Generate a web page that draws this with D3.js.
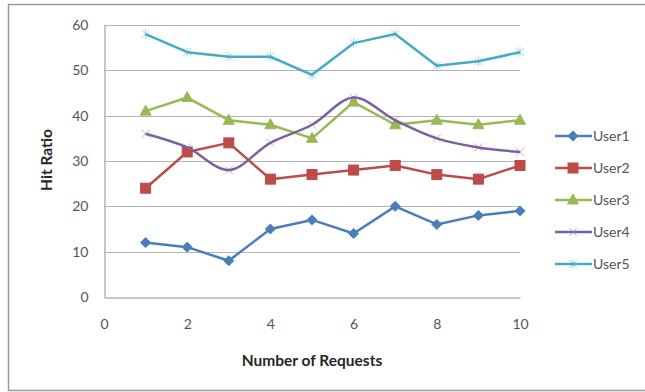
<!DOCTYPE html>
<html>
<head>
<meta charset="utf-8">
<script src="https://cdn.jsdelivr.net/npm/d3@7"></script>
<style>
  html, body { margin: 0; padding: 0; background: #fff; }
  svg { display: block; }
</style>
</head>
<body>
<svg id="chart" width="645" height="392"></svg>
<script>
// Hit ratio per user for 1..10 requests
const requests = [1, 2, 3, 4, 5, 6, 7, 8, 9, 10];
const user1 = [12, 11, 8, 15, 17, 14, 20, 16, 18, 19];
const user2 = [24, 32, 34, 26, 27, 28, 29, 27, 26, 29];
const user3 = [41, 44, 39, 38, 35, 43, 38, 39, 38, 39];
const user4 = [36, 33, 28, 34, 38, 44, 39, 35, 33, 32];
const user5 = [58, 54, 53, 53, 49, 56, 58, 51, 52, 54];
const seriesNames = ["User1", "User2", "User3", "User4", "User5"];
const xTicks = [0, 2, 4, 6, 8, 10];
const yTicks = [0, 10, 20, 30, 40, 50, 60];

const series = [
  { name: seriesNames[0], values: user1, color: "#4A7EBB", marker: "diamond", smooth: false },
  { name: seriesNames[1], values: user2, color: "#BE4B48", marker: "square", smooth: false },
  { name: seriesNames[2], values: user3, color: "#98B954", marker: "triangle", smooth: false },
  { name: seriesNames[3], values: user4, color: "#7D60A0", marker: "cross", smooth: true },
  { name: seriesNames[4], values: user5, color: "#46AAC5", marker: "star", smooth: false }
];

const svg = d3.select("#chart");
const font = "Lato, 'Open Sans', sans-serif";

// chart frame (runs off the right edge)
svg.append("rect")
  .attr("x", 8.5).attr("y", 4.5).attr("width", 660).attr("height", 386)
  .attr("fill", "#fff").attr("stroke", "#9a9a9a").attr("stroke-width", 1.5);

const x = d3.scaleLinear().domain([0, 10]).range([104, 520]);
const y = d3.scaleLinear().domain([0, 60]).range([297, 25]);

// horizontal gridlines
svg.append("g").selectAll("line").data(yTicks.filter(d => d > 0)).join("line")
  .attr("x1", x(0)).attr("x2", x(10))
  .attr("y1", d => Math.round(y(d)) + 0.5).attr("y2", d => Math.round(y(d)) + 0.5)
  .attr("stroke", "#b4b4b4").attr("stroke-width", 1.2);

// axes
const yAxis = svg.append("g")
  .attr("transform", `translate(${x(0) + 0.5},0)`)
  .call(d3.axisLeft(y).tickValues(yTicks).tickSize(0).tickPadding(16));
const xAxis = svg.append("g")
  .attr("transform", `translate(0,${Math.round(y(0)) + 0.5})`)
  .call(d3.axisBottom(x).tickValues(xTicks).tickSize(0).tickPadding(22));
[yAxis, xAxis].forEach(g => {
  g.select(".domain").attr("stroke", "#b4b4b4").attr("stroke-width", 1.5);
  g.selectAll("text").attr("font-family", font).attr("font-size", 14).attr("fill", "#555");
});

// axis titles
svg.append("text")
  .attr("x", 312).attr("y", 366).attr("text-anchor", "middle")
  .attr("font-family", font).attr("font-size", 15.5).attr("font-weight", "bold").attr("fill", "#262626")
  .text("Number of Requests");
svg.append("text")
  .attr("transform", "translate(52,160) rotate(-90)").attr("text-anchor", "middle")
  .attr("font-family", font).attr("font-size", 15.5).attr("font-weight", "bold").attr("fill", "#262626")
  .text("Hit Ratio");

function drawMarker(g, type, color, cx, cy) {
  if (type === "diamond") {
    g.append("path").attr("d", `M${cx},${cy - 5}L${cx + 5},${cy}L${cx},${cy + 5}L${cx - 5},${cy}Z`)
      .attr("fill", color).attr("stroke", color);
  } else if (type === "square") {
    g.append("rect").attr("x", cx - 5).attr("y", cy - 5).attr("width", 10).attr("height", 10)
      .attr("fill", color).attr("stroke", color);
  } else if (type === "triangle") {
    g.append("path").attr("d", `M${cx},${cy - 6}L${cx + 5.5},${cy + 4}L${cx - 5.5},${cy + 4}Z`)
      .attr("fill", color).attr("stroke", color);
  } else if (type === "cross") {
    g.append("path").attr("d", `M${cx - 4},${cy - 4}L${cx + 4},${cy + 4}M${cx - 4},${cy + 4}L${cx + 4},${cy - 4}`)
      .attr("stroke", color).attr("stroke-width", 1).attr("opacity", 0.5);
  } else if (type === "star") {
    g.append("path").attr("d", `M${cx - 4},${cy - 4}L${cx + 4},${cy + 4}M${cx - 4},${cy + 4}L${cx + 4},${cy - 4}M${cx},${cy - 5}L${cx},${cy + 5}`)
      .attr("stroke", color).attr("stroke-width", 1).attr("opacity", 0.5);
  }
}

const plot = svg.append("g");
series.forEach(s => {
  const line = d3.line()
    .x((d, i) => x(requests[i]))
    .y(d => y(d))
    .curve(s.smooth ? d3.curveCatmullRom.alpha(0.5) : d3.curveLinear);
  plot.append("path").datum(s.values)
    .attr("d", line).attr("fill", "none")
    .attr("stroke", s.color).attr("stroke-width", 2.5).attr("stroke-linejoin", "round");
  const mg = plot.append("g");
  s.values.forEach((v, i) => drawMarker(mg, s.marker, s.color, x(requests[i]), y(v)));
});

// legend
const legend = svg.append("g");
series.forEach((s, i) => {
  const ly = 136 + i * 32;
  const g = legend.append("g");
  g.append("line").attr("x1", 555).attr("x2", 592).attr("y1", ly).attr("y2", ly)
    .attr("stroke", s.color).attr("stroke-width", 2.5);
  drawMarker(g, s.marker, s.color, 573, ly);
  g.append("text").attr("x", 593).attr("y", ly + 5)
    .attr("font-family", font).attr("font-size", 14).attr("fill", "#555")
    .text(s.name);
});
</script>
</body>
</html>
